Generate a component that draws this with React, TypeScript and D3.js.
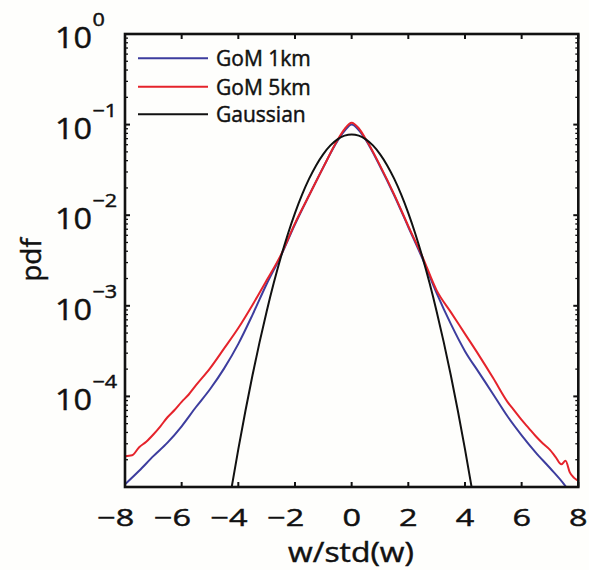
import React from 'react';
import * as d3 from 'd3';

// ---- data ----
const xTicks = [-8, -6, -4, -2, 0, 2, 4, 6, 8];
const yTickExps = [0, -1, -2, -3, -4];
const legendLabels = ['GoM 1km', 'GoM 5km', 'Gaussian'];

const gaussX = [-4.5, -4.25, -4, -3.75, -3.5, -3.25, -3, -2.75, -2.5, -2.25, -2, -1.75, -1.5, -1.25, -1, -0.75, -0.5, -0.25, 0,
  0.25, 0.5, 0.75, 1, 1.25, 1.5, 1.75, 2, 2.25, 2.5, 2.75, 3, 3.25, 3.5, 3.75, 4, 4.25, 4.5];
const gaussPdf = [3.13e-6, 9.35e-6, 2.62e-5, 6.9e-5, 1.71e-4, 3.97e-4, 8.67e-4, 1.78e-3, 3.43e-3, 6.21e-3, 0.01056, 0.01687, 0.0253, 0.0357, 0.0473, 0.0589, 0.0688, 0.0755, 0.078,
  0.0755, 0.0688, 0.0589, 0.0473, 0.0357, 0.0253, 0.01687, 0.01056, 6.21e-3, 3.43e-3, 1.78e-3, 8.67e-4, 3.97e-4, 1.71e-4, 6.9e-5, 2.62e-5, 9.35e-6, 3.13e-6];

const gom1kmX = [-8, -7.5, -7, -6.5, -6, -5.5, -5, -4.5, -4, -3.5, -3, -2.5, -2, -1.5, -1, -0.5, -0.25, 0,
  0.25, 0.5, 1, 1.5, 2, 2.5, 3, 3.5, 4, 4.5, 5, 5.5, 6, 6.5, 7, 7.5, 7.75];
const gom1kmPdf = [1.07e-5, 1.51e-5, 2.19e-5, 3.09e-5, 4.68e-5, 7.59e-5, 1.2e-4, 2.04e-4, 3.8e-4, 7.94e-4, 1.74e-3, 3.55e-3, 7.94e-3, 0.0166, 0.0339, 0.0661, 0.0851, 0.1,
  0.0871, 0.0676, 0.0347, 0.0166, 7.41e-3, 3.31e-3, 1.38e-3, 6.31e-4, 3.16e-4, 1.82e-4, 1.05e-4, 6.03e-5, 3.72e-5, 2.4e-5, 1.62e-5, 1.07e-5, 8.3e-6];

const gom5kmX = [-8, -7.75, -7.5, -7.25, -7, -6.75, -6.5, -6.25, -6, -5.75, -5.5, -5, -4.5, -4, -3.5, -3, -2.5, -2, -1.5, -1, -0.5, -0.25, 0,
  0.25, 0.5, 1, 1.5, 2, 2.5, 3, 3.5, 4, 4.5, 5, 5.5, 5.75, 6, 6.25, 6.5, 6.75, 7, 7.2, 7.4, 7.55, 7.7, 7.85, 8];
const gom5kmPdf = [2.19e-5, 2.24e-5, 2.75e-5, 3.16e-5, 3.8e-5, 4.68e-5, 5.89e-5, 7.08e-5, 8.71e-5, 1.05e-4, 1.32e-4, 2.04e-4, 3.39e-4, 5.69e-4, 1.023e-3, 1.91e-3, 3.63e-3, 8.13e-3, 0.0166, 0.0339, 0.0676, 0.0891, 0.105,
  0.0912, 0.0692, 0.0355, 0.017, 7.59e-3, 3.47e-3, 1.48e-3, 8.51e-4, 4.9e-4, 2.82e-4, 1.585e-4, 8.71e-5, 6.92e-5, 5.5e-5, 4.47e-5, 3.63e-5, 3.02e-5, 2.57e-5, 2.14e-5, 1.78e-5, 1.95e-5, 1.45e-5, 1.26e-5, 1.17e-5];

// ---- layout ----
const W = 589, H = 570;
const L = 125, R = 578.3, T = 34, B = 487;
const FONT = '"Open Sans", "DejaVu Sans", sans-serif';

const x = d3.scaleLinear().domain([-8, 8]).range([L, R]);
const y = d3.scaleLog().domain([1e-5, 1]).range([B, T]);

const line = d3.line<[number, number]>()
  .x(d => x(d[0]))
  .y(d => y(d[1]))
  .curve(d3.curveMonotoneX);

const zip = (xs: number[], ys: number[]) => xs.map((v, i) => [v, ys[i]] as [number, number]);

const series = [
  { label: legendLabels[0], color: '#3d3d9e', data: zip(gom1kmX, gom1kmPdf) },
  { label: legendLabels[1], color: '#e5232b', data: zip(gom5kmX, gom5kmPdf) },
  { label: legendLabels[2], color: '#111111', data: zip(gaussX, gaussPdf) },
];

function SText({ x, y, sx = 1, size, anchor = 'start', children }: any) {
  return (
    <text transform={`translate(${x},${y}) scale(${sx},1)`} fontSize={size} textAnchor={anchor}
      fontFamily={FONT} fill="#111" stroke="#111" strokeWidth={0.45}>{children}</text>
  );
}

export default function App() {
  const minor: number[] = [];
  for (let k = -5; k < 0; k++) for (let m = 2; m <= 9; m++) minor.push(m * Math.pow(10, k));
  const majorY = [0, -1, -2, -3, -4, -5].map(e => Math.pow(10, e));

  const xsx = 1.35, xDigitHalf = 0.572 * 24 * xsx / 2;

  return (
    <svg width={W} height={H} style={{ position: 'absolute', left: 0, top: 0, background: '#fefefc' }}>
      <defs>
        <clipPath id="plotclip"><rect x={L} y={T} width={R - L} height={B - T} /></clipPath>
      </defs>

      <g clipPath="url(#plotclip)" fill="none">
        {series.map(s => (
          <path key={s.label} d={line(s.data) || ''} stroke={s.color} strokeWidth={2} strokeLinejoin="round" />
        ))}
      </g>

      <g stroke="#111" strokeWidth={2}>
        {xTicks.map(t => (
          <g key={'xt' + t}>
            <line x1={x(t)} x2={x(t)} y1={B} y2={B - 5} />
            <line x1={x(t)} x2={x(t)} y1={T} y2={T + 5} />
          </g>
        ))}
        {majorY.map(v => (
          <g key={'yt' + v}>
            <line x1={L} x2={L + 5} y1={y(v)} y2={y(v)} />
            <line x1={R} x2={R - 5} y1={y(v)} y2={y(v)} />
          </g>
        ))}
      </g>
      <g stroke="#111" strokeWidth={1.3}>
        {minor.map(v => (
          <g key={'ym' + v}>
            <line x1={L} x2={L + 3} y1={y(v)} y2={y(v)} />
            <line x1={R} x2={R - 3} y1={y(v)} y2={y(v)} />
          </g>
        ))}
      </g>

      <rect x={L} y={T} width={R - L} height={B - T} fill="none" stroke="#111" strokeWidth={2.6} />

      {xTicks.map(t => (
        <SText key={'xl' + t} x={x(t) + xDigitHalf} y={526} sx={xsx} size={24} anchor="end">
          {t < 0 ? '\u2212' + Math.abs(t) : String(t)}
        </SText>
      ))}

      {yTickExps.map(e => (
        <g key={'yl' + e}>
          <SText x={55} y={y(Math.pow(10, e)) + 14} sx={1.08} size={30}>10</SText>
          <SText x={92.5} y={y(Math.pow(10, e)) - 8} sx={1.2} size={18}>
            {e < 0 ? '\u2212' + Math.abs(e) : String(e)}
          </SText>
        </g>
      ))}

      <text transform={`translate(41,260) rotate(-90)`} fontSize={28} fontFamily={FONT} textAnchor="middle"
        fill="#111" stroke="#111" strokeWidth={0.45}>pdf</text>
      <SText x={351} y={562} sx={1.18} size={27} anchor="middle">w/std(w)</SText>

      {series.map((s, i) => {
        const ly = [58.3, 86.7, 114.3][i];
        return (
          <g key={'lg' + i}>
            <line x1={138} x2={208} y1={ly} y2={ly} stroke={s.color} strokeWidth={2} />
            <SText x={216} y={ly + 8} size={21}>{s.label}</SText>
          </g>
        );
      })}
    </svg>
  );
}
